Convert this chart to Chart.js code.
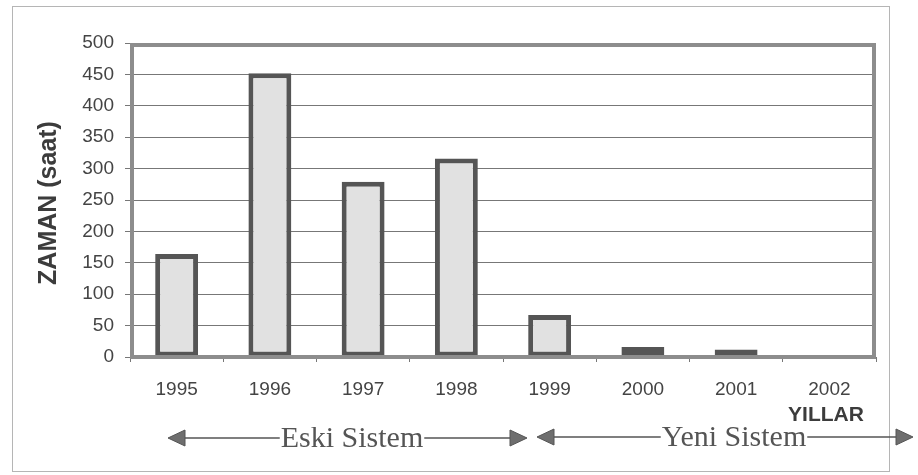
<!DOCTYPE html>
<html>
<head>
<meta charset="utf-8">
<script src="https://cdn.jsdelivr.net/npm/chart.js@4"></script>
<style>
html,body{margin:0;padding:0;background:#fff;}
#wrap{position:relative;width:918px;height:475px;}
canvas{display:block;}
</style>
</head>
<body>
<div id="wrap"><canvas id="c" width="918" height="475"></canvas></div>
<script>
// ---- data ----
const years = ['1995','1996','1997','1998','1999','2000','2001','2002'];
const hours = [164, 452, 279, 316, 67, 16, 12, 0];
const yTicks = [0, 50, 100, 150, 200, 250, 300, 350, 400, 450, 500];
const yTitle = 'ZAMAN (saat)';
const xTitle = 'YILLAR';
const periodLabels = ['Eski Sistem', 'Yeni Sistem'];

// ---- decoration plugin (frames, titles, period arrows) ----
function arrowHead(ctx, x, y, dir) {
  const L = 17, H = 8;
  ctx.beginPath();
  ctx.moveTo(x, y);
  ctx.lineTo(x - dir * L, y - H);
  ctx.lineTo(x - dir * L, y + H);
  ctx.closePath();
  ctx.fill();
  ctx.stroke();
}
function periodArrow(ctx, label, x1, x2, tx, y) {
  ctx.font = '30px "Liberation Serif", "Times New Roman", serif';
  const w = ctx.measureText(label).width;
  const tl = tx - w / 2, tr = tx + w / 2;
  ctx.strokeStyle = '#555';
  ctx.lineWidth = 1.5;
  ctx.beginPath();
  ctx.moveTo(x1 + 10, y); ctx.lineTo(tl - 1, y);
  ctx.moveTo(tr + 1, y); ctx.lineTo(x2 - 10, y);
  ctx.stroke();
  ctx.fillStyle = '#6e6e6e';
  ctx.strokeStyle = '#555';
  ctx.lineWidth = 1;
  arrowHead(ctx, x1, y, -1);
  arrowHead(ctx, x2, y, 1);
  ctx.fillStyle = '#555';
  ctx.textAlign = 'center';
  ctx.textBaseline = 'middle';
  ctx.fillText(label, tx, y + 1);
}
const decor = {
  id: 'decor',
  beforeDraw(chart) {
    const ctx = chart.ctx;
    ctx.save();
    ctx.fillStyle = '#fff';
    ctx.fillRect(0, 0, chart.width, chart.height);
    ctx.strokeStyle = '#b5b5b5';
    ctx.lineWidth = 1;
    ctx.strokeRect(12.5, 6.5, 877, 465);
    ctx.restore();
  },
  afterDatasetsDraw(chart) {
    const ctx = chart.ctx, a = chart.chartArea;
    ctx.save();
    ctx.strokeStyle = '#8d8d8d';
    ctx.lineWidth = 4;
    ctx.beginPath();
    ctx.moveTo(a.left + 2, a.bottom);
    ctx.lineTo(a.left + 2, a.top + 2);
    ctx.lineTo(a.right - 2, a.top + 2);
    ctx.lineTo(a.right - 2, a.bottom);
    ctx.stroke();
    ctx.beginPath();
    ctx.moveTo(a.left, a.bottom);
    ctx.lineTo(a.right, a.bottom);
    ctx.stroke();
    ctx.restore();
  },
  afterDraw(chart) {
    const ctx = chart.ctx;
    ctx.save();
    // y title
    ctx.translate(49, 203);
    ctx.rotate(-Math.PI / 2);
    ctx.fillStyle = '#3c3c3c';
    ctx.font = 'bold 25px "Liberation Sans", Arial, sans-serif';
    ctx.textAlign = 'center';
    ctx.textBaseline = 'middle';
    ctx.fillText(yTitle, 0, 0);
    ctx.restore();
    ctx.save();
    // x title
    ctx.fillStyle = '#3c3c3c';
    ctx.font = 'bold 21px "Liberation Sans", Arial, sans-serif';
    ctx.textAlign = 'center';
    ctx.textBaseline = 'middle';
    ctx.fillText(xTitle, 826, 415);
    // period arrows
    periodArrow(ctx, periodLabels[0], 168, 527, 352, 438);
    periodArrow(ctx, periodLabels[1], 537, 913, 734, 437);
    ctx.restore();
  }
};

new Chart(document.getElementById('c'), {
  type: 'bar',
  data: {
    labels: years,
    datasets: [{
      data: hours,
      backgroundColor: '#e1e1e1',
      borderColor: '#555555',
      borderWidth: 5,
      borderSkipped: false,
      barPercentage: 0.92,
      categoryPercentage: 0.5
    }]
  },
  options: {
    responsive: false,
    animation: false,
    devicePixelRatio: 1,
    layout: { padding: { left: 0, top: 43, right: 42, bottom: 0 } },
    plugins: { legend: { display: false }, tooltip: { enabled: false }, title: { display: false } },
    scales: {
      x: {
        grid: { display: true, drawOnChartArea: false, drawTicks: true, tickLength: 5, color: '#777', offset: true },
        border: { display: false },
        ticks: { font: { family: '"Liberation Sans", Arial, sans-serif', size: 19 }, color: '#444', padding: 16, maxRotation: 0, autoSkip: false },
        afterFit(s) { s.height = 118; }
      },
      y: {
        min: 0, max: 500,
        afterBuildTicks(s) { s.ticks = yTicks.map(v => ({ value: v })); },
        grid: { color: '#777', lineWidth: 1, tickLength: 5 },
        border: { display: false },
        ticks: { font: { family: '"Liberation Sans", Arial, sans-serif', size: 19 }, color: '#444', padding: 11 },
        afterFit(s) { s.width = 130; }
      }
    }
  },
  plugins: [decor]
});
</script>
</body>
</html>
